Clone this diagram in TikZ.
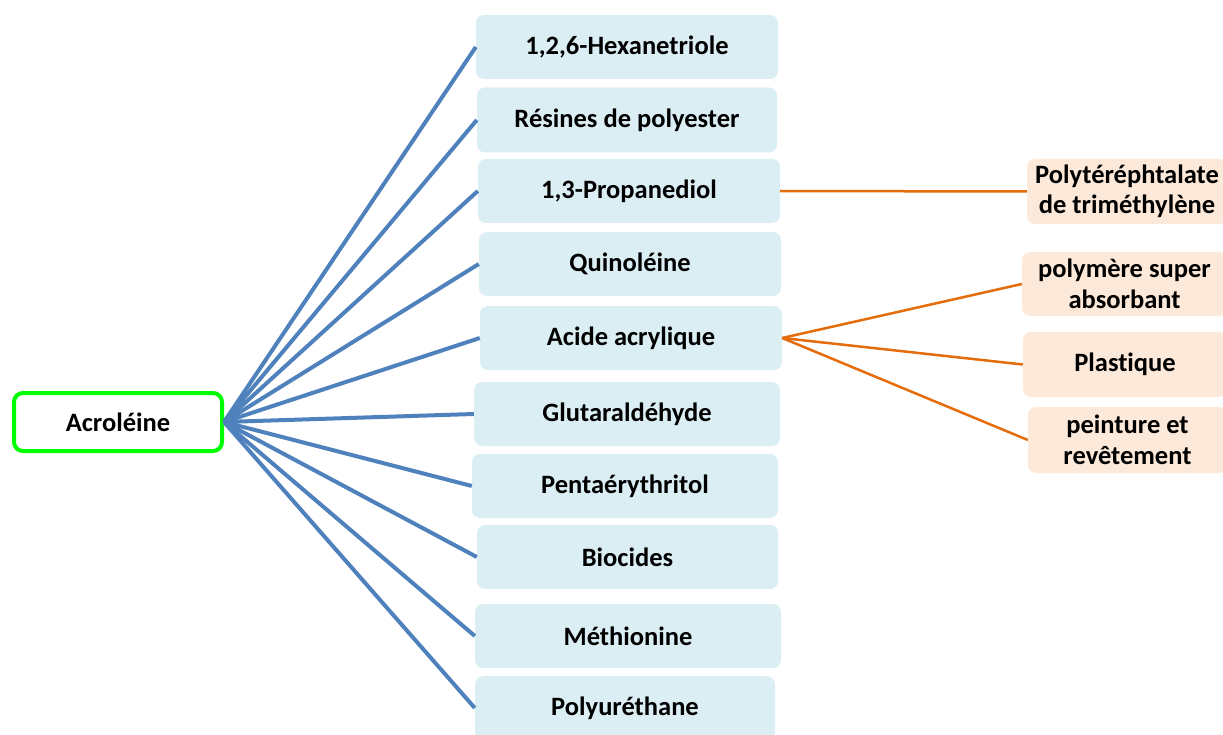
\documentclass[tikz,border=0pt]{standalone}
\usepackage{fontspec}
\setmainfont{Carlito}[Ligatures=NoCommon]
\definecolor{bluefill}{HTML}{DBEEF4}
\definecolor{orangefill}{HTML}{FDE9D9}
\definecolor{blueline}{HTML}{4F81BD}
\definecolor{orangeline}{HTML}{E46C0A}
\definecolor{greenborder}{HTML}{00FF00}
\tikzset{
  base/.style={rounded corners=8pt, inner sep=0pt, align=center,
    font=\fontsize{26.5}{30.5}\selectfont\bfseries},
  bluebox/.style={base, fill=bluefill},
  orangebox/.style={base, fill=orangefill},
  rootbox/.style={base, fill=white, draw=greenborder, line width=4pt, rounded corners=9pt},
  blueedge/.style={draw=blueline, line width=4pt},
  orangeedge/.style={draw=orangeline, line width=2.5pt},
}
\begin{document}
\begin{tikzpicture}[x=1pt,y=-1pt]
\useasboundingbox (0,0) rectangle (1223,735);
% root
\node[rootbox, minimum width=208pt, minimum height=58pt] (acro) at (118,422) {Acroléine};
% blue boxes
\node[bluebox, minimum width=302pt, minimum height=64pt] (b1) at (627,47) {1,2,6-Hexanetriole};
\node[bluebox, minimum width=300pt, minimum height=65pt] (b2) at (627,120) {Résines de polyester};
\node[bluebox, minimum width=302pt, minimum height=64pt] (b3) at (629,191) {1,3-Propanediol};
\node[bluebox, minimum width=302pt, minimum height=64pt] (b4) at (630,264) {Quinoléine};
\node[bluebox, minimum width=302pt, minimum height=64pt] (b5) at (631,338) {Acide acrylique};
\node[bluebox, minimum width=306pt, minimum height=64pt] (b6) at (627,414) {Glutaraldéhyde};
\node[bluebox, minimum width=306pt, minimum height=64pt] (b7) at (625,486) {Pentaérythritol};
\node[bluebox, minimum width=301pt, minimum height=64pt] (b8) at (627.5,557) {Biocides};
\node[bluebox, minimum width=306pt, minimum height=64pt] (b9) at (628,636) {Méthionine};
\node[bluebox, minimum width=300pt, minimum height=64pt, anchor=north] (b10) at (625,676) {Polyuréthane};
% orange boxes
\node[orangebox, minimum width=200pt, minimum height=65pt] (o1) at (1127,191.5) {Polytéréphtalate\\de triméthylène};
\node[orangebox, minimum width=205pt, minimum height=64pt] (o2) at (1124.5,284) {polymère super\\absorbant};
\node[orangebox, minimum width=204pt, minimum height=65pt] (o3) at (1125,364.5) {Plastique};
\node[orangebox, minimum width=199pt, minimum height=66pt] (o4) at (1127.5,440) {peinture et\\revêtement};
% blue connectors
\foreach \n in {b1,b2,b3,b4,b5,b6,b7,b8,b9}
  \draw[blueedge] (acro.east) -- (\n.west);
\draw[blueedge] (acro.east) -- (b10.west |- 0,708);
% orange connectors
\draw[orangeedge] (b3.east) -- (o1.west);
\draw[orangeedge] (b5.east) -- (o2.west);
\draw[orangeedge] (b5.east) -- (o3.west);
\draw[orangeedge] (b5.east) -- (o4.west);
\end{tikzpicture}
\end{document}
